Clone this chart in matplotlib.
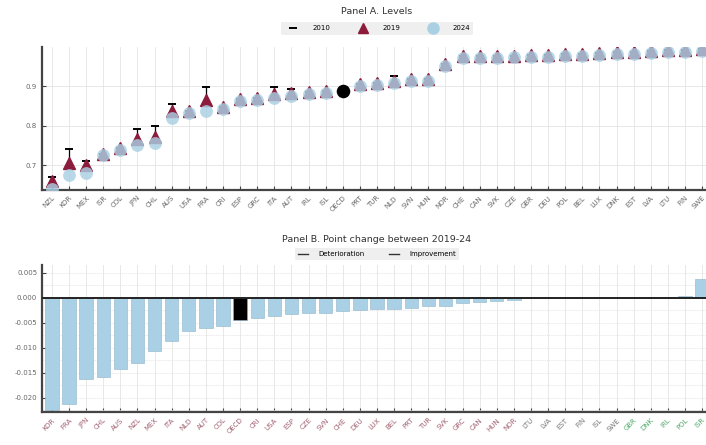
import numpy as np
import matplotlib
matplotlib.use("Agg")
import matplotlib.pyplot as plt
from matplotlib.lines import Line2D

# Panel A: levels
countries_a = ["NZL", "KOR", "MEX", "ISR", "COL", "JPN", "CHL", "AUS", "USA", "FRA",
               "CRI", "ESP", "GRC", "ITA", "AUT", "IRL", "ISL", "OECD", "PRT", "TUR",
               "NLD", "SVN", "HUN", "NOR", "CHE", "CAN", "SVK", "CZE", "GBR", "DEU",
               "POL", "BEL", "LUX", "DNK", "EST", "LVA", "LTU", "FIN", "SWE"]
lvl_2024 = [0.640, 0.676, 0.681, 0.725, 0.738, 0.752, 0.757, 0.820, 0.831, 0.837,
            0.843, 0.862, 0.866, 0.871, 0.875, 0.879, 0.883, 0.888, 0.900, 0.902,
            0.908, 0.913, 0.914, 0.951, 0.970, 0.971, 0.971, 0.972, 0.973, 0.974,
            0.976, 0.977, 0.979, 0.980, 0.982, 0.983, 0.985, 0.986, 0.988]
lvl_2019 = [0.660, 0.706, 0.700, 0.730, 0.743, 0.767, 0.772, 0.837, 0.836, 0.866,
            0.848, 0.867, 0.871, 0.879, 0.883, 0.884, 0.888, 0.889, 0.905, 0.907,
            0.914, 0.918, 0.919, 0.956, 0.975, 0.976, 0.976, 0.977, 0.978, 0.979,
            0.981, 0.982, 0.984, 0.985, 0.987, 0.988, 0.990, 0.991, 0.993]
lvl_2010 = [0.672, 0.741, 0.710, 0.730, 0.743, 0.792, 0.800, 0.856, 0.836, 0.898,
            0.848, 0.867, 0.871, 0.897, 0.893, 0.884, 0.888, 0.889, 0.905, 0.907,
            0.925, 0.918, 0.919, 0.956, 0.975, 0.976, 0.976, 0.977, 0.978, 0.979,
            0.981, 0.982, 0.984, 0.985, 0.987, 0.988, 0.990, 0.991, 0.993]

# Panel B: point change 2019-24
countries_b = ["KOR", "FRA", "JPN", "CHL", "AUS", "NZL", "MEX", "ITA", "NLD", "AUT",
               "COL", "OECD", "CRI", "USA", "ESP", "CZE", "SVN", "CHE", "DEU", "LUX",
               "BEL", "PRT", "TUR", "SVK", "GRC", "CAN", "HUN", "NOR", "LTU", "LVA",
               "EST", "FIN", "ISL", "SWE", "GBR", "DNK", "IRL", "POL", "ISR"]
change = [-0.0224, -0.0212, -0.0163, -0.0159, -0.0143, -0.0131, -0.0106, -0.0086, -0.0066, -0.0061,
          -0.0057, -0.0044, -0.0041, -0.0037, -0.0033, -0.0031, -0.0030, -0.0027, -0.0024, -0.0022,
          -0.0022, -0.0020, -0.0017, -0.0016, -0.0010, -0.0008, -0.0006, -0.0005, 0.0, 0.0,
          0.0, 0.0, 0.0, 0.0, 0.0001, 0.0001, 0.0002, 0.0003, 0.0037]

blue = "#a9d0e4"
red = "#8c1b3c"
grid_c = "#e4e4e4"
tick_c = "#666666"

fig = plt.figure(figsize=(7.06, 4.45), dpi=100)
axA = fig.add_axes([0.0595, 0.573, 0.9405, 0.321])
axB = fig.add_axes([0.0595, 0.074, 0.9405, 0.330])

for ax in (axA, axB):
    for s in ("top", "right"):
        ax.spines[s].set_visible(False)
    for s in ("left", "bottom"):
        ax.spines[s].set_color("#444444")
        ax.spines[s].set_linewidth(1.6)
    ax.tick_params(direction="in", length=3, width=0.8, colors="#444444", labelsize=5)
    ax.set_axisbelow(True)
    ax.set_xlim(-0.58, 38.23)

# ---- Panel A
xa = np.arange(len(countries_a))
is_oecd = np.array([c == "OECD" for c in countries_a])
y24 = np.array(lvl_2024)
y19 = np.array(lvl_2019)
axA.grid(True, axis="both", color=grid_c, lw=0.6)
for i in xa:
    if abs(lvl_2010[i] - lvl_2019[i]) > 0.004:
        axA.plot([i, i], [lvl_2019[i], lvl_2010[i]], color="black", lw=0.9, zorder=2)
axA.plot(xa, lvl_2010, ls="none", marker="_", ms=6, mew=1.4, color="black", zorder=3)
# OECD average is shown only as a black dot
axA.plot(xa[~is_oecd], y19[~is_oecd], ls="none", marker="^", ms=8.5, color=red, zorder=4)
axA.scatter(xa[~is_oecd], y24[~is_oecd], s=85, c=blue, alpha=0.82, zorder=5, linewidths=0)
axA.scatter(xa[is_oecd], y24[is_oecd], s=95, c="black", zorder=6, linewidths=0)
axA.set_ylim(0.638, 0.998)
axA.set_yticks([0.7, 0.8, 0.9])
axA.set_yticklabels(["0.7", "0.8", "0.9"], color=tick_c)
axA.set_xticks(xa)
axA.set_xticklabels(countries_a, rotation=45, ha="right", rotation_mode="anchor",
                    color=tick_c, fontsize=5)

# ---- Panel B
xb = np.arange(len(countries_b))
axB.set_yticks(np.arange(-0.0225, 0.0075, 0.0025), minor=True)
axB.grid(True, axis="x", color=grid_c, lw=0.6)
axB.grid(True, axis="y", which="both", color=grid_c, lw=0.5, ls=(0, (2, 1)))
bar_cols = ["black" if c == "OECD" else blue for c in countries_b]
axB.bar(xb, change, width=0.78, color=bar_cols, edgecolor="#8fb4c8", linewidth=0.4, zorder=2)
axB.axhline(0, color="#222222", lw=1.4, zorder=3)
axB.set_ylim(-0.0229, 0.0065)
yt = [0.005, 0.0, -0.005, -0.010, -0.015, -0.020]
axB.set_yticks(yt)
axB.set_yticklabels(["%.3f" % v for v in yt], color=tick_c)
axB.tick_params(axis="y", which="minor", length=0)
axB.set_xticks(xb)
lbls = axB.set_xticklabels(countries_b, rotation=45, ha="right", rotation_mode="anchor",
                           fontsize=5)
for lab, v in zip(lbls, change):
    if v < 0:
        lab.set_color("#a0606e")
    elif v > 0:
        lab.set_color("#4fa86a")
    else:
        lab.set_color("#777777")

# ---- titles and legends
fig.text(0.534, 0.975, "Panel A. Levels", ha="center", va="center", fontsize=6.8, color="#333333")
hA = [Line2D([], [], ls="none", marker="_", ms=6, mew=1.4, color="black"),
      Line2D([], [], ls="none", marker="^", ms=7, color=red),
      Line2D([], [], ls="none", marker="o", ms=8, color=blue)]
legA = fig.legend(hA, ["2010", "2019", "2024"], loc="center", bbox_to_anchor=(0.534, 0.937),
                  ncol=3, fontsize=5, frameon=True, handletextpad=1.5, columnspacing=3.5,
                  borderpad=0.5, handlelength=2.5)
legA.get_frame().set_facecolor("#ececec")
legA.get_frame().set_edgecolor("none")

fig.text(0.534, 0.462, "Panel B. Point change between 2019-24", ha="center", va="center",
         fontsize=6.8, color="#333333")
hB = [Line2D([], [], color="#333333", lw=1.0),
      Line2D([], [], color="#333333", lw=1.0)]
legB = fig.legend(hB, ["Deterioration", "Improvement"], loc="center", bbox_to_anchor=(0.534, 0.429),
                  ncol=2, fontsize=5, frameon=True, handletextpad=1.5, columnspacing=3.5,
                  borderpad=0.4, handlelength=1.5)
legB.get_frame().set_facecolor("#ececec")
legB.get_frame().set_edgecolor("none")

fig.savefig("out.png", dpi=100)
